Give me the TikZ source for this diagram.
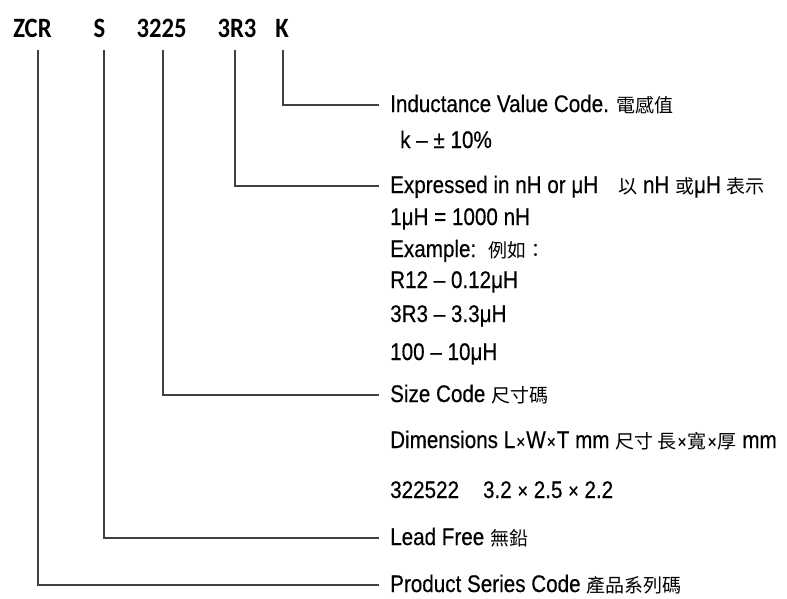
\documentclass[tikz,border=0pt]{standalone}
\usepackage{fontspec}
\setmainfont{Liberation Sans}[FakeStretch=0.86,FakeBold=0.4]
\newfontfamily\cjk{Noto Sans CJK TC}
\newfontfamily\codefont{Carlito}[FakeStretch=0.88]
\newcommand{\zh}[1]{{\cjk\fontsize{19}{19}\selectfont #1}}
\newcommand{\tm}{{\fontsize{18}{18}\selectfont\hspace{1pt}×\hspace{1pt}}}
\tikzset{
  codepart/.style={inner sep=0pt, anchor=base, font=\codefont\bfseries\fontsize{28}{28}\selectfont},
  desc/.style={inner sep=0pt, anchor=base west, font=\fontsize{24}{28}\selectfont},
  leader/.style={draw=black!75, line width=1.5pt}
}
\begin{document}
\begin{tikzpicture}[x=1pt,y=-1pt]
  \useasboundingbox (0,0) rectangle (787,598);
  % part number
  \node[codepart] (zcr)  at (32.5,37) {ZCR};
  \node[codepart] (s)    at (99.5,37) {S};
  \node[codepart] (size) at (161.5,37) {3225};
  \node[codepart] (val)  at (237,37) {3R3};
  \node[codepart] (tolc) at (282,37) {K};
  % descriptions
  \node[desc] (ind)   at (390,112) {Inductance Value Code. \zh{電感值}};
  \node[desc] (tol)   at (400,148) {k -- ± 10\%};
  \node[desc] (expr)  at (390,193) {Expressed in nH or μH\hspace{20pt}\zh{以} nH \zh{或}μH \zh{表示}};
  \node[desc] (conv)  at (390,225) {1μH = 1000 nH};
  \node[desc] (ex)    at (390,257) {Example:\hspace{12pt}\zh{例如：}};
  \node[desc] (exa)   at (390,288) {R12 -- 0.12μH};
  \node[desc] (exb)   at (390,322) {3R3 -- 3.3μH};
  \node[desc] (exc)   at (390,360) {100 -- 10μH};
  \node[desc] (sz)    at (390,402) {Size Code \zh{尺寸碼}};
  \node[desc] (dims)  at (390,448) {Dimensions L\tm W\tm T mm \zh{尺寸 長}\tm\zh{寬}\tm\zh{厚} mm};
  \node[desc] (dimex) at (390,498) {322522\hspace{24pt}3.2 {\fontsize{21}{21}\selectfont ×} 2.5 {\fontsize{21}{21}\selectfont ×} 2.2};
  \node[desc] (free)  at (390,545) {Lead Free \zh{無鉛}};
  \node[desc] (prod)  at (390,592) {Product Series Code \zh{產品系列碼}};
  % leaders
  \draw[leader] ([xshift=1pt,yshift=-13pt]tolc.base) |- ([xshift=-11pt,yshift=7pt]ind.base west);
  \draw[leader] ([xshift=-2pt,yshift=-13pt]val.base) |- ([xshift=-11pt,yshift=7pt]expr.base west);
  \draw[leader] ([xshift=1.5pt,yshift=-13pt]size.base) |- ([xshift=-11pt,yshift=7pt]sz.base west);
  \draw[leader] ([xshift=4.5pt,yshift=-13pt]s.base) |- ([xshift=-11pt,yshift=7pt]free.base west);
  \draw[leader] ([xshift=5.5pt,yshift=-13pt]zcr.base) |- ([xshift=-11pt,yshift=7pt]prod.base west);
\end{tikzpicture}
\end{document}
